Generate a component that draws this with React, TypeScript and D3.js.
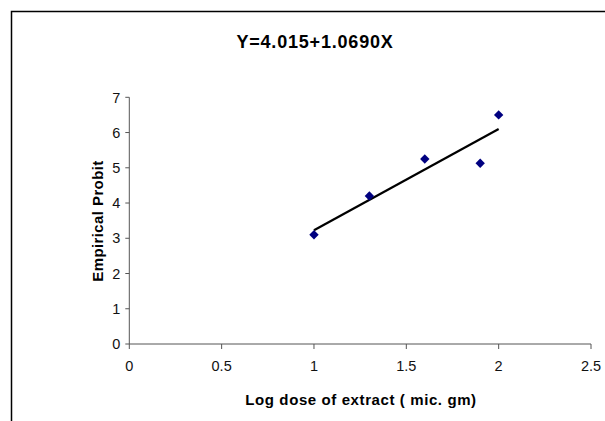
import React from "react";
import * as d3 from "d3";

const doses = [1, 1.3, 1.6, 1.9, 2];
const probits = [3.1, 4.2, 5.25, 5.13, 6.5];
const xTicks = [0, 0.5, 1, 1.5, 2, 2.5];
const yTicks = [0, 1, 2, 3, 4, 5, 6, 7];
const titleText = "Y=4.015+1.0690X";
const xLabel = "Log dose of extract ( mic. gm)";
const yLabel = "Empirical Probit";

const W = 605;
const H = 421;
const FONT = "Liberation Sans, Arial, sans-serif";

export default function App() {
  const x = d3.scaleLinear().domain([0, 2.5]).range([129.3, 591]);
  const y = d3.scaleLinear().domain([0, 7]).range([344, 97.3]);

  // least-squares trendline
  const mx = d3.mean(doses)!;
  const my = d3.mean(probits)!;
  let sxy = 0, sxx = 0;
  doses.forEach((d, i) => {
    sxy += (d - mx) * (probits[i] - my);
    sxx += (d - mx) * (d - mx);
  });
  const slope = sxy / sxx;
  const icpt = my - slope * mx;
  const xmin = d3.min(doses)!;
  const xmax = d3.max(doses)!;
  const line = d3.line<number>().x((d) => x(d)).y((d) => y(icpt + slope * d));
  const diamond = d3.symbol().type(d3.symbolDiamond2).size(56)();

  return (
    <div style={{ position: "fixed", left: 0, top: 0 }}>
      <svg width={W} height={H} style={{ display: "block", background: "#fff" }}>
        <rect x={0} y={0} width={W} height={H} fill="#fff" />
        <rect x={11.5} y={11.5} width={W + 20} height={H + 20} fill="none" stroke="#000" strokeWidth={1.5} />
        <text x={315} y={48} textAnchor="middle" fontFamily={FONT} fontWeight="bold" fontSize={18} letterSpacing={0.8}>
          {titleText}
        </text>
        {/* y axis */}
        <line x1={x(0)} x2={x(0)} y1={y(0)} y2={y(7)} stroke="#555" strokeWidth={1} />
        {yTicks.map((t) => (
          <g key={"y" + t}>
            <line x1={x(0) - 4} x2={x(0)} y1={y(t)} y2={y(t)} stroke="#555" strokeWidth={1} />
            <text x={x(0) - 9} y={y(t)} dy="0.36em" textAnchor="end" fontFamily={FONT} fontSize={14.5} fill="#111">
              {t}
            </text>
          </g>
        ))}
        {/* x axis */}
        <line x1={x(0)} x2={x(2.5)} y1={y(0)} y2={y(0)} stroke="#555" strokeWidth={1} />
        {xTicks.map((t) => (
          <g key={"x" + t}>
            <line x1={x(t)} x2={x(t)} y1={y(0)} y2={y(0) + 5} stroke="#555" strokeWidth={1} />
            <text x={x(t)} y={370.5} textAnchor="middle" fontFamily={FONT} fontSize={14.5} fill="#111">
              {t}
            </text>
          </g>
        ))}
        <text x={361} y={405} textAnchor="middle" fontFamily={FONT} fontWeight="bold" fontSize={15} letterSpacing={0.6}>
          {xLabel}
        </text>
        <text
          transform={`translate(103,221) rotate(-90)`}
          textAnchor="middle"
          fontFamily={FONT}
          fontWeight="bold"
          fontSize={15}
          letterSpacing={0.4}
        >
          {yLabel}
        </text>
        <path d={line([xmin, xmax])!} stroke="#000" strokeWidth={2.2} fill="none" />
        {doses.map((d, i) => (
          <path key={i} d={diamond!} transform={`translate(${x(d)},${y(probits[i])})`} fill="#000080" />
        ))}
      </svg>
    </div>
  );
}
